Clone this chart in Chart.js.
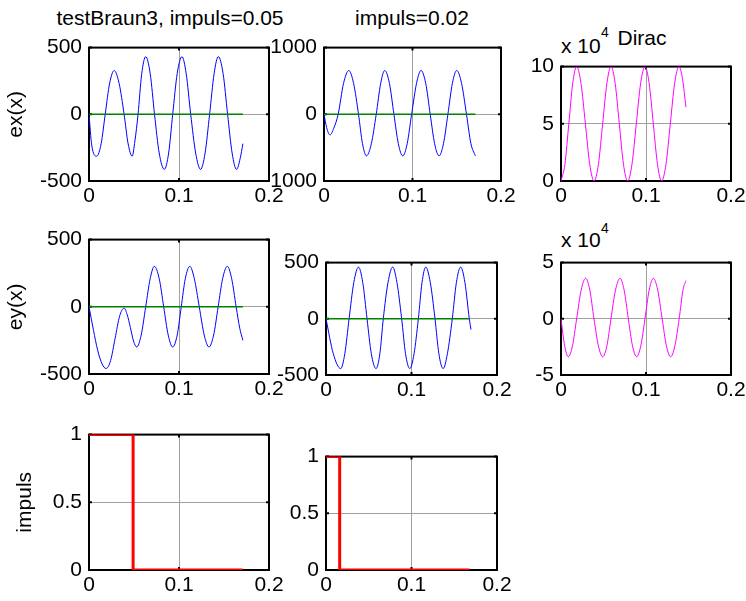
<!DOCTYPE html>
<html>
<head>
<meta charset="utf-8">
<script src="https://cdn.jsdelivr.net/npm/chart.js@4.4.0/dist/chart.umd.min.js"></script>
<style>
body { margin:0; background:#fff; width:746px; height:601px; position:relative; overflow:hidden; font-family:"Liberation Sans", Arial, sans-serif; }
canvas { position:absolute; }
.lbl { position:absolute; font-size:21px; line-height:1; color:#000; white-space:nowrap; }
.ctr { width:300px; text-align:center; }
.sup { font-size:14px; }
</style>
</head>
<body>
<div class="lbl ctr" style="left:20px;top:7px">testBraun3, impuls=0.05</div>
<div class="lbl ctr" style="left:262px;top:7px">impuls=0.02</div>
<div class="lbl ctr" style="left:492px;top:27px">Dirac</div>
<div class="lbl" style="left:561px;top:35px">x 10</div>
<div class="lbl sup" style="left:601px;top:25px">4</div>
<div class="lbl" style="left:561px;top:229px">x 10</div>
<div class="lbl sup" style="left:601px;top:221px">4</div>

<canvas id="p1"></canvas>
<canvas id="p2"></canvas>
<canvas id="p3"></canvas>
<canvas id="p4"></canvas>
<canvas id="p5"></canvas>
<canvas id="p6"></canvas>
<canvas id="p7"></canvas>
<canvas id="p8"></canvas>

<script>
// ex(x), impuls = 0.05
var ex05X = [0, 0.003, 0.0086, 0.0135, 0.018, 0.023, 0.028, 0.0335, 0.039, 0.0435, 0.048, 0.051, 0.0545, 0.0585, 0.063, 0.068, 0.0728, 0.078, 0.0837, 0.0885, 0.093, 0.098, 0.1033, 0.108, 0.113, 0.1185, 0.124, 0.129, 0.134, 0.139, 0.1437, 0.149, 0.154, 0.159, 0.164, 0.168, 0.171];
var ex05Y = [0, -230, -314, -220, 0, 235, 328, 230, 0, -222, -314, -200, 0, 300, 432, 305, 0, -290, -413, -290, 0, 305, 432, 305, 0, -290, -413, -290, 0, 305, 432, 305, 0, -290, -413, -330, -220];

// ex(x), impuls = 0.02
var ex02X = [0, 0.003, 0.0068, 0.011, 0.016, 0.022, 0.028, 0.0335, 0.039, 0.0435, 0.048, 0.0535, 0.059, 0.064, 0.0686, 0.074, 0.079, 0.084, 0.089, 0.094, 0.099, 0.1045, 0.1096, 0.115, 0.12, 0.125, 0.13, 0.135, 0.14, 0.145, 0.150, 0.1555, 0.161, 0.166, 0.171];
var ex02Y = [0, -200, -309, -210, 0, 460, 657, 460, 0, -440, -623, -440, 0, 460, 657, 460, 0, -440, -623, -440, 0, 460, 657, 460, 0, -440, -623, -440, 0, 460, 657, 460, 0, -440, -623];

// ex(x), Dirac (x 10^4)
var exDX = [0, 0.0046, 0.0092, 0.0138, 0.0184, 0.0235, 0.0287, 0.0338, 0.039, 0.044, 0.049, 0.054, 0.0588, 0.0637, 0.0686, 0.0735, 0.0784, 0.0835, 0.0886, 0.0937, 0.0988, 0.1037, 0.1086, 0.1135, 0.1184, 0.1235, 0.1286, 0.1337, 0.1388, 0.143, 0.147];
var exDY = [0, 1.46, 5, 8.54, 10, 8.54, 5, 1.46, 0, 1.46, 5, 8.54, 10, 8.54, 5, 1.46, 0, 1.46, 5, 8.54, 10, 8.54, 5, 1.46, 0, 1.46, 5, 8.54, 10, 8.9, 6.45];

// ey(x), impuls = 0.05
var ey05X = [0, 0.005, 0.0095, 0.0145, 0.019, 0.024, 0.029, 0.034, 0.039, 0.0425, 0.046, 0.0495, 0.053, 0.058, 0.063, 0.068, 0.0726, 0.078, 0.083, 0.088, 0.093, 0.098, 0.1025, 0.107, 0.112, 0.117, 0.1225, 0.128, 0.1333, 0.1385, 0.1435, 0.1485, 0.1537, 0.1585, 0.1635, 0.1675, 0.171];
var ey05Y = [0, -175, -320, -425, -459, -400, -235, -70, -10, -60, -155, -255, -299, -210, 0, 210, 301, 210, 0, -210, -299, -210, 0, 210, 301, 210, 0, -210, -299, -210, 0, 210, 301, 210, 0, -160, -250];

// ey(x), impuls = 0.02
var ey02X = [0, 0.0085, 0.0172, 0.022, 0.027, 0.0325, 0.038, 0.043, 0.048, 0.053, 0.0585, 0.063, 0.067, 0.0725, 0.078, 0.083, 0.0885, 0.093, 0.098, 0.103, 0.108, 0.1123, 0.1166, 0.122, 0.1275, 0.132, 0.137, 0.142, 0.1477, 0.1525, 0.1575, 0.1625, 0.1676, 0.1696];
var ey02Y = [0, -310, -443, -310, 0, 322, 460, 322, 0, -310, -443, -310, 0, 322, 460, 322, 0, -310, -443, -310, 0, 322, 460, 322, 0, -310, -443, -310, 0, 322, 460, 322, 0, -96];

// ey(x), Dirac (x 10^4)
var eyDX = [0, 0.0043, 0.0086, 0.0135, 0.0184, 0.0237, 0.029, 0.0339, 0.0388, 0.044, 0.049, 0.054, 0.0588, 0.0641, 0.0694, 0.0743, 0.0792, 0.0841, 0.089, 0.0939, 0.0988, 0.1037, 0.1086, 0.1138, 0.119, 0.124, 0.129, 0.134, 0.139, 0.1435, 0.147];
var eyDY = [0, -2.4, -3.38, -2.4, 0, 2.55, 3.6, 2.55, 0, -2.4, -3.38, -2.4, 0, 2.55, 3.6, 2.55, 0, -2.4, -3.38, -2.4, 0, 2.55, 3.6, 2.55, 0, -2.4, -3.38, -2.4, 0, 2.55, 3.4];

// zero lines (green)
var zero05X = [0, 0.171];
var zero02X = [0, 0.168];
var zeroY = [0, 0];

// impuls
var imp05X = [0, 0.049, 0.049, 0.171];
var imp05Y = [1, 1, 0, 0];
var imp02X = [0, 0.016, 0.016, 0.168];
var imp02Y = [1, 1, 0, 0];

var xTicks = [0, 0.1, 0.2];

var FONT = {family: '"Liberation Sans", Arial, sans-serif', size: 21};

function pts(xs, ys) {
    var out = [];
    for (var i = 0; i < xs.length; i++) out.push({x: xs[i], y: ys[i]});
    return out;
}

function fmt(v) { return String(+(+v).toFixed(2)); }

// black box with small inward ticks, MATLAB style
var boxPlugin = {
    id: 'box',
    beforeDatasetsDraw: function(chart) {
        var ctx = chart.ctx, a = chart.chartArea;
        var xs = chart.scales.x, ys = chart.scales.y;
        ctx.save();
        ctx.strokeStyle = '#000';
        ctx.lineWidth = 2;
        ctx.strokeRect(a.left, a.top, a.right - a.left, a.bottom - a.top);
        ctx.beginPath();
        xs.ticks.forEach(function(t) {
            var px = xs.getPixelForValue(t.value);
            ctx.moveTo(px, a.bottom); ctx.lineTo(px, a.bottom - 3);
            ctx.moveTo(px, a.top); ctx.lineTo(px, a.top + 3);
        });
        ys.ticks.forEach(function(t) {
            var py = ys.getPixelForValue(t.value);
            ctx.moveTo(a.left, py); ctx.lineTo(a.left + 3, py);
            ctx.moveTo(a.right, py); ctx.lineTo(a.right - 3, py);
        });
        ctx.stroke();
        ctx.restore();
    }
};

function makePlot(id, box, datasets, ymin, ymax, ystep, ylabel, ylabelPad) {
    var cv = document.getElementById(id);
    cv.width = box.w + 110;
    cv.height = box.h + 50;
    cv.style.left = (box.l - 85) + 'px';
    cv.style.top = (box.t - 15) + 'px';

    new Chart(cv, {
        type: 'line',
        data: {datasets: datasets},
        options: {
            responsive: false,
            animation: false,
            layout: {padding: {left: 0, top: 15, right: 25, bottom: 0}},
            elements: {point: {radius: 0}},
            plugins: {legend: {display: false}, tooltip: {enabled: false}},
            scales: {
                x: {
                    type: 'linear', min: 0, max: 0.2,
                    afterFit: function(s) { s.height = 35; },
                    afterBuildTicks: function(s) { s.ticks = xTicks.map(function(v) { return {value: v}; }); },
                    grid: {color: '#a0a0a0', lineWidth: 1, drawTicks: false},
                    border: {display: false},
                    ticks: {color: '#000', font: FONT, padding: 3, maxRotation: 0, autoSkip: false, callback: fmt}
                },
                y: {
                    type: 'linear', min: ymin, max: ymax,
                    afterFit: function(s) { s.width = 85; },
                    grid: {color: '#a0a0a0', lineWidth: 1, drawTicks: false},
                    border: {display: false},
                    ticks: {color: '#000', font: FONT, padding: 7, stepSize: ystep, autoSkip: false, callback: fmt},
                    title: {display: !!ylabel, text: ylabel || '', color: '#000', font: FONT, padding: {top: ylabelPad || 0, bottom: 0}}
                }
            }
        },
        plugins: [boxPlugin]
    });
}

function wave(xs, ys, color, w) {
    return {data: pts(xs, ys), borderColor: color, borderWidth: w, cubicInterpolationMode: 'monotone', fill: false};
}
function flat(xs, ys, color, w) {
    return {data: pts(xs, ys), borderColor: color, borderWidth: w, tension: 0, fill: false};
}

makePlot('p1', {l: 89, t: 43, w: 180, h: 138},
    [flat(zero05X, zeroY, '#008000', 1.5), wave(ex05X, ex05Y, '#0000ff', 1)],
    -500, 500, 500, 'ex(x)', 0);
makePlot('p2', {l: 324, t: 43, w: 177, h: 138},
    [flat(zero05X, zeroY, '#008000', 1.5), wave(ex02X, ex02Y, '#0000ff', 1)],
    -1000, 1000, 1000);
makePlot('p3', {l: 561, t: 62, w: 170, h: 119},
    [wave(exDX, exDY, '#ff00ff', 1)],
    0, 10, 5);
makePlot('p4', {l: 89, t: 235, w: 180, h: 139},
    [flat(zero05X, zeroY, '#008000', 1.5), wave(ey05X, ey05Y, '#0000ff', 1)],
    -500, 500, 500, 'ey(x)', 0);
makePlot('p5', {l: 326, t: 258, w: 171, h: 117},
    [flat(zero02X, zeroY, '#008000', 1.5), wave(ey02X, ey02Y, '#0000ff', 1)],
    -500, 500, 500);
makePlot('p6', {l: 561, t: 258, w: 170, h: 117},
    [wave(eyDX, eyDY, '#ff00ff', 1)],
    -5, 5, 5);
makePlot('p7', {l: 89, t: 430, w: 180, h: 140},
    [flat(imp05X, imp05Y, '#ff0000', 3)],
    0, 1, 0.5, 'impuls', 9);
makePlot('p8', {l: 326, t: 452, w: 171, h: 118},
    [flat(imp02X, imp02Y, '#ff0000', 3)],
    0, 1, 0.5);
</script>
</body>
</html>
